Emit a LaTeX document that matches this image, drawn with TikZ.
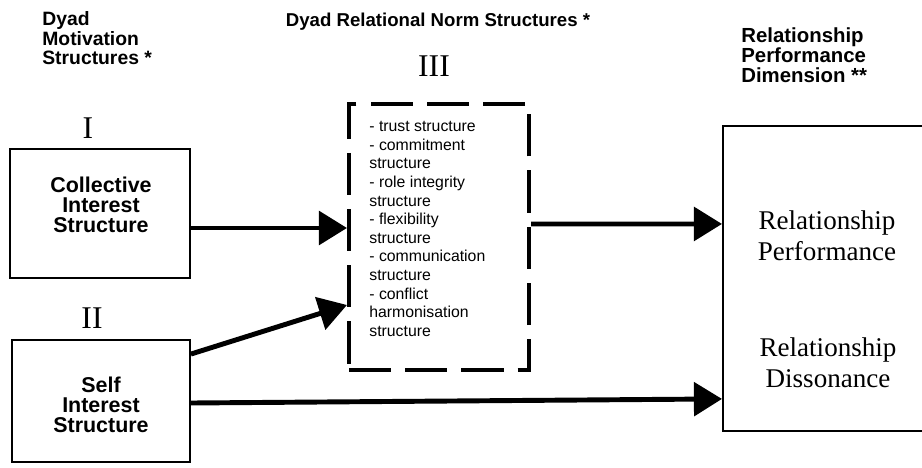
\documentclass[tikz,border=0pt]{standalone}
\usepackage{fontspec}
\setmainfont{Liberation Serif}
\setsansfont{Liberation Sans}
\usetikzlibrary{arrows.meta}

\begin{document}
\begin{tikzpicture}[x=0.02cm,y=-0.02cm,
  heading/.style={font=\sffamily\bfseries\fontsize{11}{11.2}\selectfont,align=left,inner sep=0pt},
  numeral/.style={font=\fontsize{18}{18}\selectfont,inner sep=0pt},
  motbox/.style={draw,line width=1.1pt},
  mottext/.style={align=center,inner sep=0pt,font=\sffamily\bfseries\fontsize{12.2}{11.4}\selectfont},
  normbox/.style={draw,line width=2.3pt,dash pattern=on 24pt off 8pt},
  outcome/.style={align=center,font=\fontsize{15.4}{17.5}\selectfont,inner sep=0pt},
  flow/.style={line width=2.8pt,-{Triangle[length=16pt,width=19pt]}}]
\useasboundingbox (0,0) rectangle (922,467);
\clip (0,0) rectangle (922,467);

\node[heading,anchor=north west] (mothead) at (42,11) {Dyad\\Motivation\\Structures *};
\node[heading,font=\sffamily\bfseries\fontsize{10.6}{11}\selectfont] (normhead) at (438,22) {Dyad Relational Norm Structures *};
\node[heading,anchor=north west,font=\sffamily\bfseries\fontsize{11.6}{11.4}\selectfont] (dimhead) at (741,27) {Relationship\\Performance\\Dimension **};

\node[numeral] (one) at (88,128) {I};
\node[numeral] (two) at (92,318) {II};
\node[numeral] (three) at (434,66) {III};

\node[motbox,minimum width=3.6cm,minimum height=2.58cm] (coll) at (100,213.5) {};
\node[mottext] (colltext) at (101,205) {Collective\\Interest\\Structure};
\node[motbox,minimum width=3.56cm,minimum height=2.44cm] (self) at (101,401) {};
\node[mottext] (selftext) at (101,405) {Self\\Interest\\Structure};

\node[normbox,minimum width=3.6cm,minimum height=5.32cm] (norms) at (439,237) {};
\node[anchor=north west,align=left,inner sep=0pt,font=\sffamily\fontsize{9}{10.6}\selectfont] (list) at (369,121)
  {- trust structure\\- commitment\\structure\\- role integrity\\structure\\- flexibility\\structure\\- communication\\structure\\- conflict\\harmonisation\\structure};

\node[draw,line width=1.1pt,minimum width=4.4cm,minimum height=6.1cm,anchor=north west] (dim) at (722,125) {};
\node[outcome] (perf) at (827,236) {Relationship\\Performance};
\node[outcome] (diss) at (828,363) {Relationship\\Dissonance};

\draw[flow] ([yshift=-0.29cm]coll.east) -- ([yshift=-0.29cm]coll.east -| norms.west);
\draw[flow] ([yshift=-0.3cm]self.north east) -- ([yshift=-1.36cm]norms.west);
\draw[flow] ([yshift=-0.04cm]self.east) -- ([yshift=-2.41cm]dim.west);
\draw[flow] ([yshift=0.26cm]norms.east) -- ([yshift=1.09cm]dim.west);

\end{tikzpicture}
\end{document}
